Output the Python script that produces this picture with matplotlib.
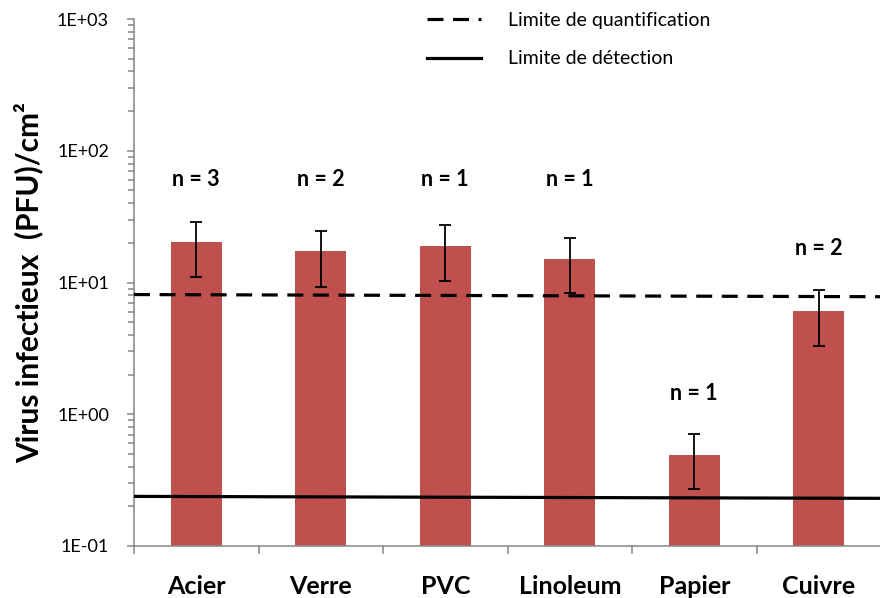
"""Bar chart: infectious virus per cm2 on different surfaces (log scale)."""

import matplotlib
matplotlib.use("Agg")
import matplotlib.pyplot as plt
from matplotlib.lines import Line2D
from matplotlib.ticker import FuncFormatter, LogLocator
import numpy as np

surfaces = ["Acier", "Verre", "PVC", "Linoleum", "Papier", "Cuivre"]
values = [20.2, 17.3, 19.0, 15.2, 0.49, 6.1]
err_high = [29.0, 24.8, 27.4, 21.9, 0.71, 8.7]
err_low = [11.0, 9.3, 10.3, 8.3, 0.27, 3.3]
n_labels = ["n = 3", "n = 2", "n = 1", "n = 1", "n = 1", "n = 2"]

# limit lines (left end, right end)
quant_limit = [8.1, 7.8]
detect_limit = [0.238, 0.230]

# label heights (layout only)
n_label_y = [61, 61, 61, 61, 1.44, 18.0]

plt.rcParams["font.family"] = ["Lato", "DejaVu Sans"]

GRAY = "#868686"
RED = "#C0504D"

fig = plt.figure(figsize=(8.8, 5.98), dpi=100)
ax = fig.add_axes([134 / 880, 52 / 598, 747 / 880, 527 / 598])

x = np.arange(len(surfaces))
vals = np.array(values)
yerr = np.array([vals - np.array(err_low), np.array(err_high) - vals])

ax.bar(x, vals, width=0.41, color=RED, zorder=2)
ax.errorbar(x, vals, yerr=yerr, fmt="none", ecolor="black", elinewidth=1.3,
            capsize=4.5, capthick=1.3, zorder=3)

ax.plot([-0.5, 5.5], quant_limit, color="black", lw=2.3, ls=(0, (5, 3)), zorder=4)
ax.plot([-0.5, 5.5], detect_limit, color="black", lw=2.3, zorder=4)

for xi, lab, ly in zip(x, n_labels, n_label_y):
    ax.text(xi, ly, lab, ha="center", va="center", fontsize=15.5, fontweight="bold")

ax.set_yscale("log")
ax.set_ylim(0.1, 1000)
ax.set_xlim(-0.5, 5.5)

ax.yaxis.set_major_locator(LogLocator(base=10))
ax.yaxis.set_minor_locator(LogLocator(base=10, subs=np.arange(2, 10)))
ax.yaxis.set_major_formatter(FuncFormatter(lambda v, p: f"1E{int(round(np.log10(v))):+03d}"))
ax.tick_params(axis="y", which="major", length=5, width=1.1, color=GRAY,
               labelsize=13, pad=13)
ax.tick_params(axis="y", which="minor", length=4.3, width=1.1, color=GRAY)

ax.set_xticks(x)
ax.set_xticklabels(surfaces, fontsize=18, fontweight="bold")
ax.set_xticks(np.arange(-0.5, 6.0, 1.0), minor=True)
ax.tick_params(axis="x", which="major", length=0, pad=21)
ax.tick_params(axis="x", which="minor", length=6, width=1.1, color=GRAY)

for side in ("top", "right"):
    ax.spines[side].set_visible(False)
for side in ("left", "bottom"):
    ax.spines[side].set_color(GRAY)
    ax.spines[side].set_linewidth(1.1)

ax.set_ylabel("Virus infectieux  (PFU)/cm²", fontsize=21.5, fontweight="bold")
ax.yaxis.set_label_coords(-0.122, 0.5)

handles = [
    Line2D([], [], color="black", lw=2.3, ls=(0, (5, 3))),
    Line2D([], [], color="black", lw=2.3),
]
fig.legend(handles, ["Limite de quantification", "Limite de détection"],
           loc="upper left", bbox_to_anchor=(427 / 880, 1 - 12 / 598),
           frameon=False, fontsize=14, handlelength=2.8, handletextpad=1.35,
           labelspacing=1.1, borderpad=0, borderaxespad=0)

fig.savefig("out.png", dpi=100)
